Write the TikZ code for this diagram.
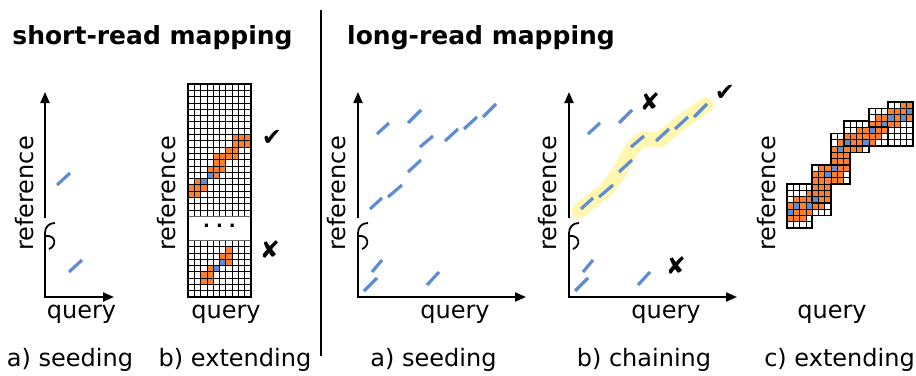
\documentclass[tikz,border=0pt]{standalone}
\usepackage{fontspec}
\setmainfont{DejaVu Sans}
\usetikzlibrary{arrows.meta}
\definecolor{seedblue}{RGB}{95,141,211}
\definecolor{extorange}{RGB}{255,127,42}
\definecolor{chainyellow}{RGB}{255,247,175}

% axis break squiggle at axis x=#1
\newcommand\axbreak[1]{%
  \draw[squig] (#1,233) .. controls (#1,227) and (#1+4,223) .. (#1+10,223);
  \draw[squig] (#1+1,236) .. controls (#1+11,235) and (#1+12,246) .. (#1+4,249);
}
% seeds of the long-read panels (absolute for panel 3)
\newcommand\longseeds{%
  \draw[seed] (377,134) -- (389,123);
  \draw[seed] (408,123) -- (421,110);
  \draw[seed] (445,141) -- (458,129);
  \draw[seed] (464,129) -- (477,117);
  \draw[seed] (483,117) -- (496,104);
  \draw[seed] (420,147) -- (433,136);
  \draw[seed] (408,172) -- (421,160);
  \draw[seed] (388,197) -- (402,185);
  \draw[seed] (370,209) -- (382,198);
  \draw[seed] (372,272) -- (382,260);
  \draw[seed] (364,291) -- (377,278);
  \draw[seed] (427,285) -- (439,272);
}
% axes + labels of a long-read panel, #1 = name prefix
\newcommand\longaxes[1]{%
  \coordinate (#1o) at (358,297);
  \coordinate (#1b) at (358,218);
  \coordinate (#1t) at (358,92);
  \coordinate (#1l) at (358,233);
  \coordinate (#1r) at (526,297);
  \draw[axisarrow] (#1b) -- (#1t);
  \draw[axisarrow] (#1l) -- (#1o) -- (#1r);
  \axbreak{358}
  \node[lbl,anchor=base] (#1q) at (455,318.5) {query};
  \node[lbl,rotate=90,anchor=base] (#1ref) at (345,193.5) {reference};
}
% panel 5 band cells
\newcommand\bandcells{%
  \foreach \j/\lo/\hi in {1/0/2,2/0/3,3/0/5,4/1/6,5/3/6,6/4/6,7/4/8,8/4/8,9/5/9,10/6/9,11/7/9,12/7/11,13/8/13,14/9/14,15/11/15,16/13/17,17/14/19,18/16/19,19/18/19}{%
    \foreach \i in {\lo,...,\hi}{\fill[extorange] (\i,\j) rectangle ++(1,1);}}
  \foreach \i/\j in {0/2,1/3,3/3,4/4,6/8,7/9,8/12,9/13,12/13,13/15,15/16,16/17,18/17,19/18}{%
    \fill[seedblue] (\i,\j) rectangle ++(1,1);}
}
\newcommand\extblock[1]{%
  \begin{scope}
    \clip #1;
    \fill[white] #1;
    \bandcells
    \foreach \k in {0,...,20}{\draw[gridline] (\k,0) -- (\k,20); \draw[gridline] (0,\k) -- (20,\k);}
  \end{scope}
  \draw[blockborder] #1;
}
\newcommand\srcell[3]{\fill[#3] (188+6.3*#1,84+6.3*#2) rectangle ++(6.3,6.3);}
\newcommand\srbcell[3]{\fill[#3] (188+6.3*#1,240.3+6.3*#2) rectangle ++(6.3,6.3);}

\begin{document}
\begin{tikzpicture}[x=1pt,y=-1pt,
  axisarrow/.style={line width=2pt,-{Triangle[length=11pt,width=9pt]}},
  squig/.style={line width=1.8pt},
  seed/.style={seedblue,line width=3.2pt},
  lbl/.style={font=\fontsize{24}{29}\selectfont,inner sep=0pt},
  ttl/.style={font=\fontsize{25}{30}\selectfont\bfseries,inner sep=0pt},
  markglyph/.style={font=\fontsize{24}{28}\selectfont,inner sep=0pt},
  gridline/.style={line width=0.7pt},
  framebox/.style={line width=2pt},
  blockborder/.style={line width=1.6pt,line join=miter},
  chainhl/.style={draw=chainyellow,line width=15pt,line cap=round,line join=round},
]
\useasboundingbox (0,0) rectangle (916,375);

% titles and divider
\node[ttl,anchor=base] (tshort) at (152.5,44) {short-read mapping};
\node[ttl,anchor=base] (tlong) at (481,44) {long-read mapping};
\coordinate (divtop) at (321,10);
\coordinate (divbot) at (321,356);
\draw[line width=1.8pt] (divtop) -- (divbot);

% bottom captions
\node[lbl,anchor=base] (c1) at (70,366) {a) seeding};
\node[lbl,anchor=base] (c2) at (235,366) {b) extending};
\node[lbl,anchor=base] (c3) at (433.5,366) {a) seeding};
\node[lbl,anchor=base] (c4) at (644,366) {b) chaining};
\node[lbl,anchor=base] (c5) at (839.5,366) {c) extending};

% ---------- panel 1: short-read seeding
\coordinate (p1o) at (45,297);
\coordinate (p1b) at (45,218);
\coordinate (p1t) at (45,92);
\coordinate (p1l) at (45,233);
\coordinate (p1r) at (114,297);
\draw[axisarrow] (p1b) -- (p1t);
\draw[axisarrow] (p1l) -- (p1o) -- (p1r);
\axbreak{45}
\draw[seed] (57,185) -- (70,173);
\draw[seed] (69,272) -- (82,260);
\node[lbl,anchor=base] (q1) at (81.5,318.5) {query};
\node[lbl,rotate=90,anchor=base] (r1) at (33,193.5) {reference};

% ---------- panel 2: short-read extending
\fill[white] (188,84) rectangle (251,297);
\foreach \c/\r in {7/8,8/8,9/8,7/9,8/9,9/9,6/10,7/10,4/11,5/11,6/11,7/11,4/12,5/12,3/13,4/13,5/13,4/14,1/15,0/16,1/16,2/16,0/17,1/17}{\srcell{\c}{\r}{extorange}}
\srcell{3}{14}{seedblue}
\srcell{2}{15}{seedblue}
\foreach \c/\r in {6/1,5/2,6/2,6/3,3/4,2/5,3/5,2/6,3/6}{\srbcell{\c}{\r}{extorange}}
\srbcell{5}{3}{seedblue}
\srbcell{4}{4}{seedblue}
\foreach \i in {0,...,10}{\draw[gridline] (188+6.3*\i,84) -- (188+6.3*\i,297);}
\foreach \r in {0,...,21}{\draw[gridline] (188,84+6.3*\r) -- (251,84+6.3*\r);}
\foreach \r in {0,...,9}{\draw[gridline] (188,240.3+6.3*\r) -- (251,240.3+6.3*\r);}
\draw[fill=white,line width=0.6pt,draw=black!60] (188,216.3) rectangle (251,240.3);
\node[font=\fontsize{18}{20}\selectfont\bfseries,inner sep=0pt] (dots) at (219.5,226) {.\,\,.\,\,.};
\draw[framebox] (188,84) rectangle (251,297);
\node[lbl,anchor=base] (q2) at (226,318.5) {query};
\node[lbl,rotate=90,anchor=base] (r2) at (175,193.5) {reference};
\node[markglyph] (ok2) at (272,138) {✔};
\node[markglyph] (no2) at (270,250) {✘};

% ---------- panel 3: long-read seeding
\longaxes{p3}
\longseeds

% ---------- panel 4: long-read chaining
\draw[chainhl] (579,211) -- (596,197) -- (606,190) -- (618,174) -- (630,152) -- (640,140) -- (650,139) -- (660,140) -- (675,127) -- (690,116) -- (706,105);
\begin{scope}[xshift=211pt]
  \longaxes{p4}
  \longseeds
\end{scope}
\node[markglyph] (no4a) at (650,102) {✘};
\node[markglyph] (no4b) at (676,266) {✘};
\node[markglyph] (ok4) at (725,93) {✔};

% ---------- panel 5: long-read extending
\begin{scope}[shift={(787,228)},x=6.3pt,y=6.3pt]
  \extblock{(0,0) -- (4,0) -- (4,2) -- (7,2) -- (7,5) -- (4,5) -- (4,7) -- (0,7) -- cycle}
  \extblock{(4,4) -- (7,4) -- (7,7) -- (10,7) -- (10,10) -- (4,10) -- cycle}
  \extblock{(7,10) -- (10,10) -- (10,12) -- (13,12) -- (13,15) -- (7,15) -- cycle}
  \extblock{(9,13) -- (16,13) -- (16,17) -- (9,17) -- cycle}
  \extblock{(16,13) -- (20,13) -- (20,20) -- (16,20) -- (16,19) -- (13,19) -- (13,16) -- (16,16) -- cycle}
\end{scope}
\node[lbl,anchor=base] (q5) at (832,318.5) {query};
\node[lbl,rotate=90,anchor=base] (r5) at (775,193.5) {reference};
\end{tikzpicture}
\end{document}
